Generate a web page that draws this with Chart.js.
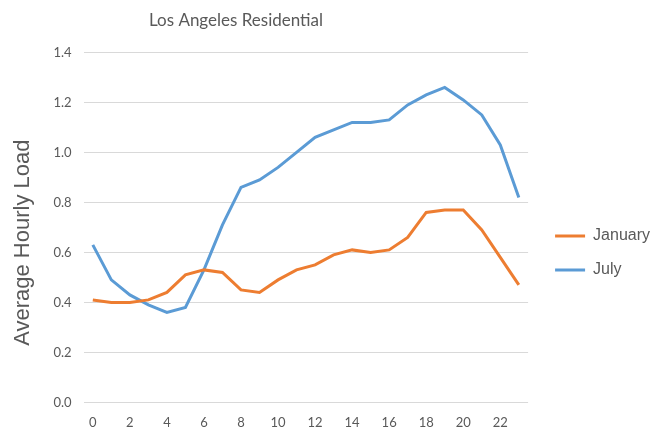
<!DOCTYPE html>
<html>
<head>
<meta charset="utf-8">
<script src="https://cdn.jsdelivr.net/npm/chart.js@4/dist/chart.umd.min.js"></script>
<style>
  html, body { margin: 0; padding: 0; background: #fff; }
  #wrap { width: 652px; height: 433px; }
</style>
</head>
<body>
<div id="wrap"><canvas id="chart"></canvas></div>
<script>
// hour of day
const hours = ["0","1","2","3","4","5","6","7","8","9","10","11","12","13","14","15","16","17","18","19","20","21","22","23"];

// average hourly load
const january = [0.41, 0.40, 0.40, 0.41, 0.44, 0.51, 0.53, 0.52, 0.45, 0.44, 0.49, 0.53, 0.55, 0.59, 0.61, 0.60, 0.61, 0.66, 0.76, 0.77, 0.77, 0.69, 0.58, 0.47];
const july = [0.63, 0.49, 0.43, 0.39, 0.36, 0.38, 0.53, 0.71, 0.86, 0.89, 0.94, 1.00, 1.06, 1.09, 1.12, 1.12, 1.13, 1.19, 1.23, 1.26, 1.21, 1.15, 1.03, 0.82];

const grey = "#595959";

// move the chart title a bit to the left, like the original
const titleShift = {
  id: "titleShift",
  afterLayout(chart) {
    if (chart.titleBlock) {
      chart.titleBlock.left = 0;
      chart.titleBlock.right = 472;
    }
  }
};

const ctx = document.getElementById("chart").getContext("2d");
new Chart(ctx, {
  type: "line",
  data: {
    labels: hours,
    datasets: [
      {
        label: "January",
        data: january,
        borderColor: "#ED7D31",
        backgroundColor: "#ED7D31",
        borderWidth: 3,
        pointRadius: 0,
        tension: 0,
        fill: false,
      },
      {
        label: "July",
        data: july,
        borderColor: "#5B9BD5",
        backgroundColor: "#5B9BD5",
        borderWidth: 3,
        pointRadius: 0,
        tension: 0,
        fill: false,
      },
    ],
  },
  options: {
    responsive: true,
    maintainAspectRatio: false,
    animation: false,
    layout: { padding: { left: 6, right: -8, top: 0, bottom: -11 } },
    plugins: {
      title: {
        display: true,
        text: "Los Angeles Residential",
        color: grey,
        font: { family: "Lato", size: 17, weight: "normal" },
        padding: { top: 10, bottom: 22 },
      },
      legend: {
        position: "right",
        align: "center",
        maxWidth: 140,
        title: { display: true, text: " ", font: { size: 10 }, padding: { top: 0, bottom: 50 } },
        labels: {
          usePointStyle: true,
          pointStyle: "line",
          pointStyleWidth: 30,
          padding: 18,
          color: grey,
          font: { family: "Liberation Sans", size: 16 },
        },
      },
      tooltip: { enabled: false },
    },
    scales: {
      x: {
        offset: true,
        grid: { display: false, drawTicks: false, tickLength: 0 },
        border: { display: false },
        ticks: {
          autoSkip: false,
          maxRotation: 0,
          padding: 13,
          color: grey,
          font: { family: "Lato", size: 13 },
          callback: (v, i) => (i % 2 === 0 ? hours[i] : ""),
        },
      },
      y: {
        min: 0,
        max: 1.4,
        grid: { color: "#D9D9D9", lineWidth: 1, drawTicks: false, tickLength: 0 },
        border: { display: false },
        ticks: {
          stepSize: 0.2,
          padding: 12,
          color: grey,
          font: { family: "Lato", size: 13 },
          callback: (v) => v.toFixed(1),
        },
        title: {
          display: true,
          // trailing spaces push the visible text a little lower, as in the original
          text: "Average Hourly Load     ",
          color: grey,
          font: { family: "Liberation Sans", size: 22 },
          padding: { top: 4, bottom: 5 },
        },
      },
      gap: {
        type: "linear",
        position: "right",
        grid: { display: false, drawTicks: false },
        border: { display: false },
        ticks: { display: false },
        afterFit(scale) { scale.width = 9; },
      },
    },
  },
  plugins: [titleShift],
});
</script>
</body>
</html>
